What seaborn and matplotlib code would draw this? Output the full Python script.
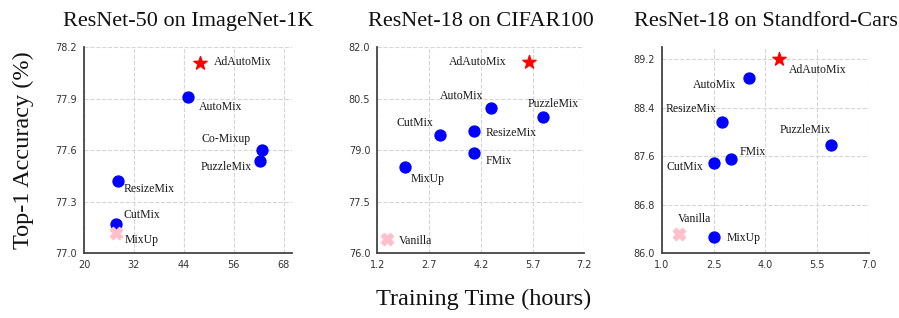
import matplotlib
matplotlib.use("Agg")
import matplotlib.pyplot as plt
import seaborn as sns
import pandas as pd

# ---------------- data ----------------
titles = ["ResNet-50 on ImageNet-1K", "ResNet-18 on CIFAR100", "ResNet-18 on Standford-Cars"]

in1k_methods = ["MixUp", "CutMix", "ResizeMix", "PuzzleMix", "Co-Mixup", "AutoMix", "AdAutoMix"]
in1k_time = [27.8, 27.8, 28.1, 62.4, 62.9, 44.9, 47.8]
in1k_acc = [77.12, 77.17, 77.42, 77.54, 77.60, 77.91, 78.11]

c100_methods = ["Vanilla", "MixUp", "CutMix", "FMix", "ResizeMix", "AutoMix", "PuzzleMix", "AdAutoMix"]
c100_time = [1.49, 2.0, 3.01, 4.0, 4.0, 4.5, 6.01, 5.61]
c100_acc = [76.42, 78.52, 79.45, 78.91, 79.56, 80.22, 79.96, 81.56]

cars_methods = ["Vanilla", "MixUp", "CutMix", "FMix", "ResizeMix", "PuzzleMix", "AutoMix", "AdAutoMix"]
cars_time = [1.5, 2.5, 2.5, 3.0, 2.75, 5.9, 3.51, 4.38]
cars_acc = [86.32, 86.27, 87.49, 87.55, 88.17, 87.79, 88.90, 89.20]

in1k_xticks = [20, 32, 44, 56, 68]
in1k_yticks = [77.0, 77.3, 77.6, 77.9, 78.2]
c100_xticks = [1.2, 2.7, 4.2, 5.7, 7.2]
c100_yticks = [76.0, 77.5, 79.0, 80.5, 82.0]
cars_xticks = [1.0, 2.5, 4.0, 5.5, 7.0]
cars_yticks = [86.0, 86.8, 87.6, 88.4, 89.2]

xlabel = "Training Time (hours)"
ylabel = "Top-1 Accuracy (%)"

# ---------------- layout / style ----------------
label_offsets = [
    {"MixUp": (8.3, -7.4, "left"), "CutMix": (7.3, 9, "left"), "ResizeMix": (6.3, -8.3, "left"),
     "PuzzleMix": (-8.4, -6, "right"), "Co-Mixup": (-11.7, 11, "right"),
     "AutoMix": (11.6, -9.7, "left"), "AdAutoMix": (14, 1, "left")},
    {"Vanilla": (12, -2, "left"), "MixUp": (5.7, -12.6, "left"), "CutMix": (-6.4, 11.4, "right"),
     "FMix": (11.7, -8, "left"), "ResizeMix": (12, -2.3, "left"), "AutoMix": (-8.3, 12.6, "right"),
     "PuzzleMix": (-16, 13.6, "left"), "AdAutoMix": (-23.3, 0.6, "right")},
    {"Vanilla": (15.7, 15, "center"), "MixUp": (13.3, -0.6, "left"), "CutMix": (-10.4, -4, "right"),
     "FMix": (9, 7.6, "left"), "ResizeMix": (-6, 13, "right"), "PuzzleMix": (-0.6, 14.6, "right"),
     "AutoMix": (-12, -7.7, "right"), "AdAutoMix": (10, -11, "left")},
]
axes_rects = [
    [0.0934, 0.2034, 0.2314, 0.648],
    [0.4197, 0.2034, 0.2303, 0.648],
    [0.7360, 0.2034, 0.2309, 0.648],
]
limits = [((20, 70), (77.0, 78.2)), ((1.2, 7.2), (76.0, 82.0)), ((1.0, 7.0), (86.0, 89.4))]
xfmt = ["{:.0f}", "{:.1f}", "{:.1f}"]

sns.set_style("whitegrid", {"grid.linestyle": "--", "grid.color": "#d6d6d6",
                            "axes.edgecolor": "#444444"})
plt.rcParams["font.family"] = ["DejaVu Sans"]
serif = ["Liberation Serif", "DejaVu Serif"]

fig = plt.figure(figsize=(8.99, 3.18), dpi=100)

panels = [
    (in1k_methods, in1k_time, in1k_acc, in1k_xticks, in1k_yticks),
    (c100_methods, c100_time, c100_acc, c100_xticks, c100_yticks),
    (cars_methods, cars_time, cars_acc, cars_xticks, cars_yticks),
]

for i, (methods, times, accs, xt, yt) in enumerate(panels):
    ax = fig.add_axes(axes_rects[i])
    n = len(methods)
    kinds = ["base"] + ["mix"] * (n - 2) + ["ours"]
    df = pd.DataFrame({"method": methods, "time": times, "acc": accs, "kind": kinds})
    palette = {"base": "pink", "mix": "#0000ff", "ours": "#ff0000"}
    markers = {"base": "X", "mix": "o", "ours": "*"}
    sizes = {"base": 78, "mix": 62, "ours": 100}
    for kind in ["mix", "base", "ours"]:
        sub = df[df["kind"] == kind]
        sns.scatterplot(data=sub, x="time", y="acc", ax=ax, color=palette[kind],
                        marker=markers[kind], s=sizes[kind], linewidth=1.0,
                        edgecolor=palette[kind], legend=False, zorder=3)
    for m, x, y in zip(methods, times, accs):
        dx, dy, ha = label_offsets[i][m]
        ax.annotate(m, (x, y), xytext=(dx, dy), textcoords="offset pixels",
                    ha=ha, va="center", fontsize=8.5, family=serif, color="#1a1a1a")
    ax.set_xlim(*limits[i][0])
    ax.set_ylim(*limits[i][1])
    ax.set_xticks(xt)
    ax.set_xticklabels([xfmt[i].format(v) for v in xt])
    ax.set_yticks(yt)
    ax.set_yticklabels(["{:.1f}".format(v) for v in yt])
    ax.tick_params(axis="both", length=0, pad=5, labelsize=7, labelcolor="#333333")
    ax.set_xlabel("")
    ax.set_ylabel("")
    ax.grid(True, linestyle="--", color="#d6d6d6", linewidth=0.8)
    for s in ["top", "right"]:
        ax.spines[s].set_visible(False)
    for s in ["left", "bottom"]:
        ax.spines[s].set_color("#444444")
        ax.spines[s].set_linewidth(1.3)
    ax.set_title(titles[i], fontsize=16, family=serif, pad=15, color="#111111")

fig.text(0.538, 0.057, xlabel, ha="center", va="center", fontsize=17.5, family=serif, color="#111111")
fig.text(0.026, 0.528, ylabel, ha="center", va="center", rotation=90, fontsize=17.5,
         family=serif, color="#111111")

fig.savefig("out.png", dpi=100, facecolor="white")
